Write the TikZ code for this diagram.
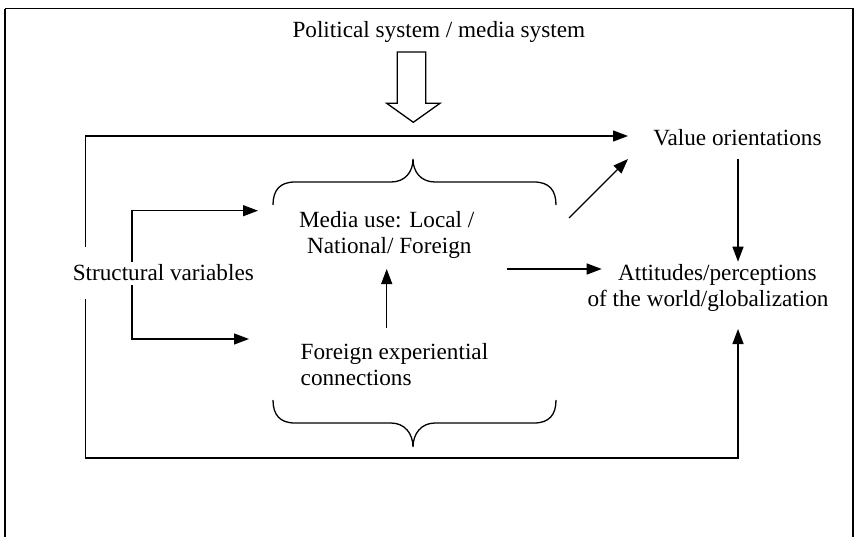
\documentclass[tikz,border=0pt]{standalone}
\usepackage{fontspec}
\setmainfont{Liberation Serif}
\usetikzlibrary{arrows.meta}
\begin{document}
\begin{tikzpicture}[x=1pt,y=-1pt,
  every node/.style={font=\fontsize{23.2}{26}\selectfont, inner sep=0pt, outer sep=0pt},
  conn/.style={line width=1.3pt},
  arr/.style={conn, -{Triangle[length=15pt,width=11pt]}},
  bracestyle/.style={line width=1.3pt},
  hollow/.style={line width=1.3pt, fill=white, line join=miter}]
\useasboundingbox (0,0) rectangle (858,537);
\draw[line width=1.5pt] (5,8.7) -- (853,8.7) -- (853,560);
\draw[line width=1.5pt] (5,8.7) -- (5,560);

% texts (anchor=base is the baseline of the last line)
\node[anchor=base] (pol) at (438.8,37.3) {Political system / media system};
\node[anchor=base] (val) at (737.5,146) {Value orientations};
\node[anchor=base] (str) at (163.3,280) {Structural variables};
\node[anchor=base, align=center] (med) at (389.3,253) {Media use: Local /\hspace*{5.2pt}\\National/ Foreign};
\node[anchor=base west, align=left] (fec) at (300.7,385) {Foreign experiential\\connections};
\node[anchor=base, align=center] (att) at (708,306) {\hspace*{18.6pt}Attitudes/perceptions\\of the world/globalization};

% hollow arrow from political system
\draw[hollow] (397.3,52) -- (425.7,52) -- (425.7,103.3) -- (440,103.3) -- (413.3,122.3)
  -- (386.7,103.3) -- (397.3,103.3) -- cycle;

% coordinates
\coordinate (oTop) at (85.7,247);
\coordinate (oBot) at (85.7,299);
\coordinate (valIn) at (628,136);
\coordinate (valDiag) at (628,159);
\coordinate (valOut) at (738,159);
\coordinate (attTop) at (738,261.7);
\coordinate (attBot) at (738,329);
\coordinate (attLeft) at (601.7,269);
\coordinate (iTop) at (132,262);
\coordinate (iBot) at (132,285);
\coordinate (medIn) at (258,210.7);
\coordinate (fecIn) at (249,339);
\coordinate (medOut) at (506.7,269);
\coordinate (medDiag) at (569,218);
\coordinate (medBot) at (386.7,269);
\coordinate (fecTop) at (386.7,328);

% connectors
\draw[arr] (oTop) |- (valIn);
\draw[arr] (oBot) |- (738,458) -- (attBot);
\draw[arr] (iTop) |- (medIn);
\draw[arr] (iBot) |- (fecIn);
\draw[arr] (fecTop) -- (medBot);
\draw[arr] (medOut) -- (attLeft);
\draw[arr] (medDiag) -- (valDiag);
\draw[arr] (valOut) -- (attTop);

% braces
\draw[bracestyle] (273,205) .. controls (273,190) and (280,182) .. (295,182) -- (391,182)
  .. controls (405,182) and (413,172) .. (413,159)
  .. controls (413,172) and (421,182) .. (435,182) -- (534,182)
  .. controls (549,182) and (556,190) .. (556,205);
\draw[bracestyle] (273,400) .. controls (273,415) and (280,423) .. (295,423) -- (391,423)
  .. controls (405,423) and (413,434) .. (413,447)
  .. controls (413,434) and (421,423) .. (435,423) -- (534,423)
  .. controls (549,423) and (556,415) .. (556,400);
\end{tikzpicture}
\end{document}
